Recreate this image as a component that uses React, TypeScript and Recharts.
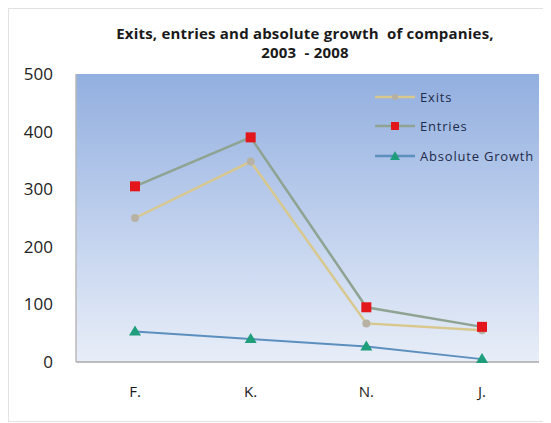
import { LineChart, Line, XAxis, YAxis, CartesianGrid } from "recharts";

// Exits, entries and absolute growth of companies, 2003 - 2008
const categories = ["F.", "K.", "N.", "J."];
const exits = [250, 348, 67, 55];
const entries = [305, 390, 95, 61];
const growth = [53, 40, 27, 5];
const yTicks = [0, 100, 200, 300, 400, 500];

const data = categories.map((c, i) => ({
  cat: c,
  Exits: exits[i],
  Entries: entries[i],
  "Absolute Growth": growth[i],
}));

const FONT = "'Open Sans', 'DejaVu Sans', sans-serif";

const SquareDot = (props: any) => {
  const { cx, cy } = props;
  if (cx == null || cy == null) return null;
  return <rect x={cx - 5} y={cy - 5} width={10} height={10} fill="#e3161b" />;
};

const TriangleDot = (props: any) => {
  const { cx, cy } = props;
  if (cx == null || cy == null) return null;
  return <path d={`M${cx},${cy - 6} L${cx + 6},${cy + 4} L${cx - 6},${cy + 4} Z`} fill="#1f9e7c" />;
};

const legendItems = [
  { name: "Exits", line: "#d8c88e", marker: "circle" },
  { name: "Entries", line: "#8fa392", marker: "square" },
  { name: "Absolute Growth", line: "#5c8fbd", marker: "triangle" },
];

const ChartLegend = () => (
  <div
    style={{
      position: "absolute",
      top: 73,
      left: 366,
      fontFamily: FONT,
      fontSize: 13,
      color: "#1f2b4a",
      letterSpacing: 0.8,
    }}
  >
    {legendItems.map((it) => (
      <div key={it.name} style={{ display: "flex", alignItems: "center", height: 29.5 }}>
        <svg width={44} height={12} style={{ marginRight: 1 }}>
          <line x1={0} y1={6} x2={40} y2={6} stroke={it.line} strokeWidth={2.5} />
          {it.marker === "circle" && <circle cx={20} cy={6} r={3} fill="#b5b0a0" />}
          {it.marker === "square" && <rect x={16} y={2} width={8} height={8} fill="#e3161b" />}
          {it.marker === "triangle" && <path d="M20,1 L25,10 L15,10 Z" fill="#1f9e7c" />}
        </svg>
        <span>{it.name}</span>
      </div>
    ))}
  </div>
);

export default function App() {
  return (
    <div style={{ position: "relative", width: 538, height: 412, border: "1px solid #e2e2e2", background: "#fff" }}>
      <div
        style={{
          position: "absolute",
          top: 15,
          left: 0,
          width: 592,
          textAlign: "center",
          fontFamily: FONT,
          fontWeight: "bold",
          fontSize: 15,
          letterSpacing: 0.2,
          lineHeight: "19px",
          color: "#1a1a1a",
        }}
      >
        Exits, entries and absolute growth&nbsp; of companies,
        <br />
        2003&nbsp; - 2008
      </div>
      <LineChart width={538} height={412} data={data} margin={{ top: 65, right: 8, left: 0, bottom: 19 }}>
        <defs>
          <linearGradient id="plotBg" x1="0" y1="0" x2="0" y2="1">
            <stop offset="0%" stopColor="#92afdf" />
            <stop offset="55%" stopColor="#c2d2ee" />
            <stop offset="100%" stopColor="#e8eef8" />
          </linearGradient>
        </defs>
        <CartesianGrid horizontal={false} vertical={false} fill="url(#plotBg)" fillOpacity={1} />
        <XAxis
          dataKey="cat"
          padding={{ left: 59, right: 57 }}
          axisLine={{ stroke: "#a8a8a8", strokeWidth: 1.5 }}
          tickLine={false}
          tickMargin={18}
          height={40}
          tick={{ fontFamily: FONT, fontSize: 15, fill: "#1a1a1a" }}
        />
        <YAxis
          domain={[0, 500]}
          ticks={yTicks}
          width={67}
          axisLine={{ stroke: "#b8b8b8", strokeWidth: 1.5 }}
          tickLine={false}
          tickMargin={17}
          tick={{ fontFamily: FONT, fontSize: 17, fill: "#222" }}
        />
        <Line
          dataKey="Exits"
          stroke="#d8c88e"
          strokeWidth={2.5}
          dot={{ r: 4, fill: "#b8b2a4", stroke: "none" }}
          isAnimationActive={false}
        />
        <Line
          dataKey="Entries"
          stroke="#8fa392"
          strokeWidth={2.5}
          dot={<SquareDot />}
          isAnimationActive={false}
        />
        <Line
          dataKey="Absolute Growth"
          stroke="#5c8fbd"
          strokeWidth={2}
          dot={<TriangleDot />}
          isAnimationActive={false}
        />
      </LineChart>
      <ChartLegend />
    </div>
  );
}
